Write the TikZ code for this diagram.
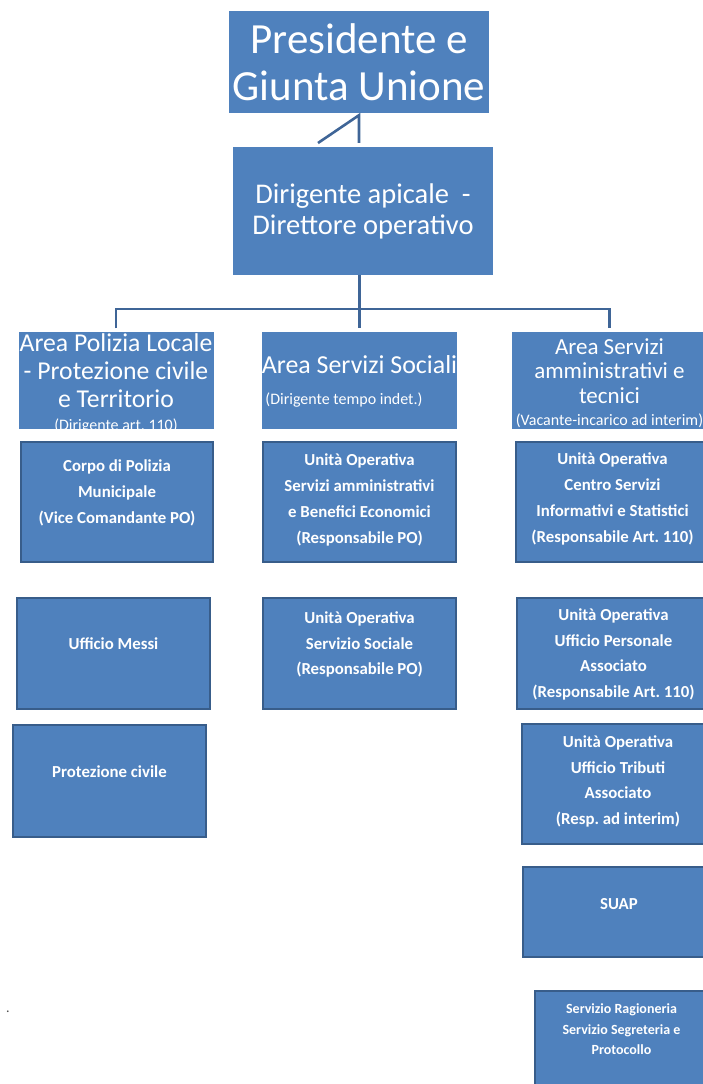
\documentclass[tikz,border=0pt]{standalone}
\usepackage{fontspec}
\setmainfont{Carlito}
\usetikzlibrary{positioning}

\definecolor{ofblue}{HTML}{4F81BD}
\definecolor{ofedge}{HTML}{385D8A}
\definecolor{ofline}{HTML}{3F6597}

\begin{document}
\frenchspacing
\begin{tikzpicture}[x=1pt, y=-1pt,
  tbox/.style={fill=ofblue, inner sep=0pt, text=white, align=center,
               minimum width=260pt},
  abox/.style={fill=ofblue, inner sep=0pt,
               minimum width=195pt, minimum height=97pt},
  atxt/.style={text=white, align=center, inner sep=0pt},
  ubox/.style={fill=ofblue, draw=ofedge, line width=2pt, inner sep=0pt,
               minimum width=193pt},
  utxt/.style={text=white, align=center, inner sep=0pt,
               font=\fontsize{16.8}{25.8}\selectfont\bfseries},
  conn/.style={draw=ofline, line width=2.6pt},
]
\useasboundingbox (0,0) rectangle (702,1084);

% --- Top levels ---
\node[tbox, minimum height=102pt, font=\fontsize{43}{47}\selectfont]
  (pres) at (359,62) {Presidente e\\Giunta Unione};
\node[tbox, minimum height=128pt, font=\fontsize{28.5}{31}\selectfont]
  (dir) at (363,211) {Dirigente apicale\ \ -\\Direttore operativo};

% --- Areas ---
\node[abox] (area1) at (116,380) {};
\node[atxt, font=\fontsize{25.7}{28}\selectfont] (area1T) at ([yshift=-3pt]area1.center)
  {Area Polizia Locale\\- Protezione civile\\e Territorio\\[-5pt]
  {\fontsize{16}{16}\selectfont(Dirigente art. 110)}};
\node[abox] (area2) at (359.5,380) {};
\node[atxt, font=\fontsize{25.9}{28}\selectfont, align=left] (area2T) at ([yshift=-1pt]area2.center)
  {Area Servizi Sociali\\[3pt]
  {\fontsize{16}{16}\selectfont\ (Dirigente tempo indet.)}};
\node[abox] (area3) at (609.5,380) {};
\node[atxt, font=\fontsize{23}{24.5}\selectfont] (area3T) at ([yshift=-3pt]area3.center)
  {Area Servizi\\amministrativi e\\tecnici\\[-2pt]
  {\fontsize{16}{16}\selectfont(Vacante-incarico ad interim)}};

% --- Connectors ---
\coordinate (bus) at (359.5,309);
\coordinate (foot) at (318,143);
\draw[conn] ([yshift=4pt]dir.north -| pres.south) -- ([yshift=-2pt]pres.south) -- (foot);
\draw[conn] (dir.south -| bus) -- ([yshift=3pt]area2.north);
\draw[conn] ([yshift=3pt]area1.north) |- (bus) -| ([yshift=3pt]area3.north);

% --- Units, column 1 ---
\node[ubox, minimum width=192pt, minimum height=120pt] (corpo) at (117,502) {};
\node[utxt] (corpoT) at ([yshift=9pt]corpo.center)
  {Corpo di Polizia\\Municipale\\(Vice Comandante PO)};
\node[ubox, minimum height=111pt] (messi) at (113.5,653.5) {};
\node[utxt] (messiT) at ([yshift=9.5pt]messi.center) {Ufficio Messi};
\node[ubox, minimum height=112pt] (protez) at (109.5,781) {};
\node[utxt] (protezT) at ([yshift=9pt]protez.center) {Protezione civile};

% --- Units, column 2 ---
\node[ubox, minimum height=120pt] (uoamm) at (359.5,502) {};
\node[utxt] (uoammT) at ([yshift=2pt]uoamm.center)
  {Unità Operativa\\Servizi amministrativi\\e Benefici Economici\\(Responsabile PO)};
\node[ubox, minimum height=111pt] (uosoc) at (359.5,653.5) {};
\node[utxt] (uosocT) at ([yshift=9pt]uosoc.center)
  {Unità Operativa\\Servizio Sociale\\(Responsabile PO)};

% --- Units, column 3 ---
\node[ubox, minimum height=120pt] (uocsi) at (612.5,502) {};
\node[utxt] (uocsiT) at ([yshift=3pt]uocsi.center)
  {Unità Operativa\\Centro Servizi\\Informativi e Statistici\\(Responsabile Art. 110)};
\node[ubox, minimum height=111pt] (uopers) at (613.5,653.5) {};
\node[utxt] (uopersT) at ([yshift=-1pt]uopers.center)
  {Unità Operativa\\Ufficio Personale\\Associato\\(Responsabile Art. 110)};
\node[ubox, minimum height=120pt] (uotrib) at (618,784) {};
\node[utxt] (uotribT) at ([yshift=2.5pt]uotrib.center)
  {Unità Operativa\\Ufficio Tributi\\Associato\\(Resp. ad interim)};
\node[ubox, minimum height=90pt] (suap) at (619,912) {};
\node[utxt] (suapT) at ([yshift=8pt]suap.center) {SUAP};
\node[ubox, minimum width=173pt, minimum height=110pt] (ragion) at (621.5,1046) {};
\node[utxt, font=\fontsize{14}{20.5}\selectfont\bfseries] (ragionT)
  at ([yshift=16.5pt]ragion.center)
  {Servizio Ragioneria\\Servizio Segreteria e\\Protocollo};

\node[font=\fontsize{14}{14}\selectfont, anchor=base, text=black!70] (dot) at (8,1012) {.};
\end{tikzpicture}
\end{document}
